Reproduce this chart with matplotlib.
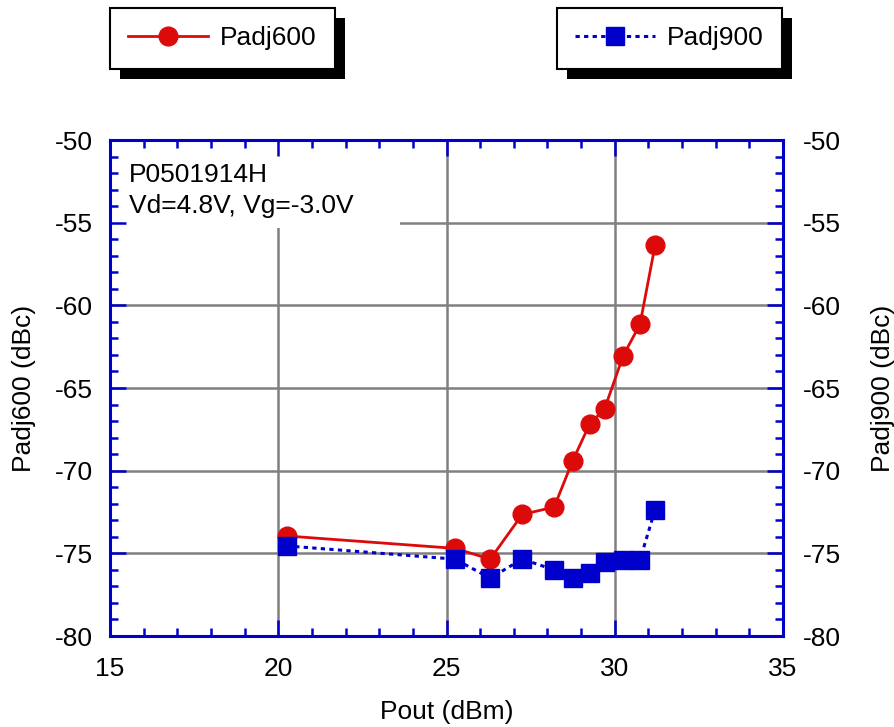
import matplotlib
matplotlib.use('Agg')
import matplotlib.pyplot as plt
from matplotlib.patches import Rectangle
from matplotlib.ticker import MultipleLocator

plt.rcParams['font.family'] = ['Liberation Sans', 'DejaVu Sans']
plt.rcParams['axes.unicode_minus'] = False

# data
pout = [20.25, 25.25, 26.3, 27.25, 28.2, 28.75, 29.25, 29.7, 30.25, 30.75, 31.2]
padj600 = [-73.95, -74.7, -75.35, -72.65, -72.2, -69.4, -67.2, -66.25, -63.05, -61.15, -56.35]
padj900 = [-74.55, -75.35, -76.5, -75.35, -76.0, -76.5, -76.2, -75.55, -75.4, -75.4, -72.35]
note_lines = ["P0501914H", "Vd=4.8V, Vg=-3.0V"]

red = '#DD0A0A'
blue = '#0000CC'
grey = '#808080'
fontSize = 19

W, H = 894, 727
fig = plt.figure(figsize=(W / 100, H / 100), dpi=100)
rect = [110 / W, 1 - 636 / H, 673 / W, 496 / H]

# main axes: data, grid, left/bottom labels
ax = fig.add_axes(rect)
ax.set_xlim(15, 35)
ax.set_ylim(-80, -50)
ax.xaxis.set_major_locator(MultipleLocator(5))
ax.yaxis.set_major_locator(MultipleLocator(5))
ax.grid(True, color=grey, linewidth=1.8)
ax.tick_params(axis='y', which='both', length=0, labelsize=fontSize, pad=12)
ax.tick_params(axis='x', which='both', length=0, labelsize=fontSize, pad=15)
for s in ax.spines.values():
    s.set_visible(False)

l600, = ax.plot(pout, padj600, color=red, linewidth=2, marker='o',
                markersize=13.5, zorder=3, label='Padj600')
l900, = ax.plot(pout, padj900, color=blue, linewidth=2.2, linestyle=(0, (1.4, 1.4)),
                marker='s', markersize=13.5, zorder=4, label='Padj900')

ax.add_patch(Rectangle((0, 0.823), 0.431, 0.177, transform=ax.transAxes,
                       facecolor='white', edgecolor='none', zorder=2.6))
ax.text(0.028, 0.953, "\n".join(note_lines), transform=ax.transAxes, va='top', ha='left',
        fontsize=fontSize, linespacing=1.35, zorder=5)

ax.set_xlabel('Pout (dBm)', fontsize=fontSize, labelpad=14)
ax.set_ylabel('Padj600 (dBc)', fontsize=fontSize, labelpad=14)

# overlay axes: blue frame, inward ticks, right labels
ax_t = fig.add_axes(rect, facecolor='none', sharex=ax, sharey=ax)
ax_t.xaxis.set_minor_locator(MultipleLocator(1))
ax_t.yaxis.set_minor_locator(MultipleLocator(1))
ax_t.tick_params(which='both', direction='in', color=blue, width=1.8,
                 left=True, right=True, top=True, bottom=True,
                 labelleft=False, labelbottom=False, labelright=True,
                 labelsize=fontSize, pad=14)
ax_t.tick_params(which='major', length=11.5)
ax_t.tick_params(which='minor', length=5.8)
ax_t.yaxis.set_label_position('right')
ax_t.set_ylabel('Padj900 (dBc)', fontsize=fontSize, labelpad=22)
for s in ax_t.spines.values():
    s.set_color(blue)
    s.set_linewidth(2.2)

# two boxed legends with black drop shadows
legs = []
for line, x0 in [(l600, 110), (l900, 557)]:
    leg = fig.legend(handles=[line], loc='upper left',
                     bbox_to_anchor=(x0 / W, 1 - 8 / H), borderaxespad=0,
                     fontsize=fontSize, handlelength=3.0, handletextpad=0.45,
                     borderpad=0.7, fancybox=False, framealpha=1,
                     edgecolor='black')
    leg.get_frame().set_linewidth(1.5)
    legs.append(leg)

fig.canvas.draw()
for leg in legs:
    bb = leg.get_window_extent().transformed(fig.transFigure.inverted())
    fig.add_artist(Rectangle((bb.x0 + 10 / W, bb.y0 - 10 / H), bb.width, bb.height,
                             transform=fig.transFigure, facecolor='black',
                             edgecolor='none', zorder=4))

fig.savefig('out.png', dpi=100)
